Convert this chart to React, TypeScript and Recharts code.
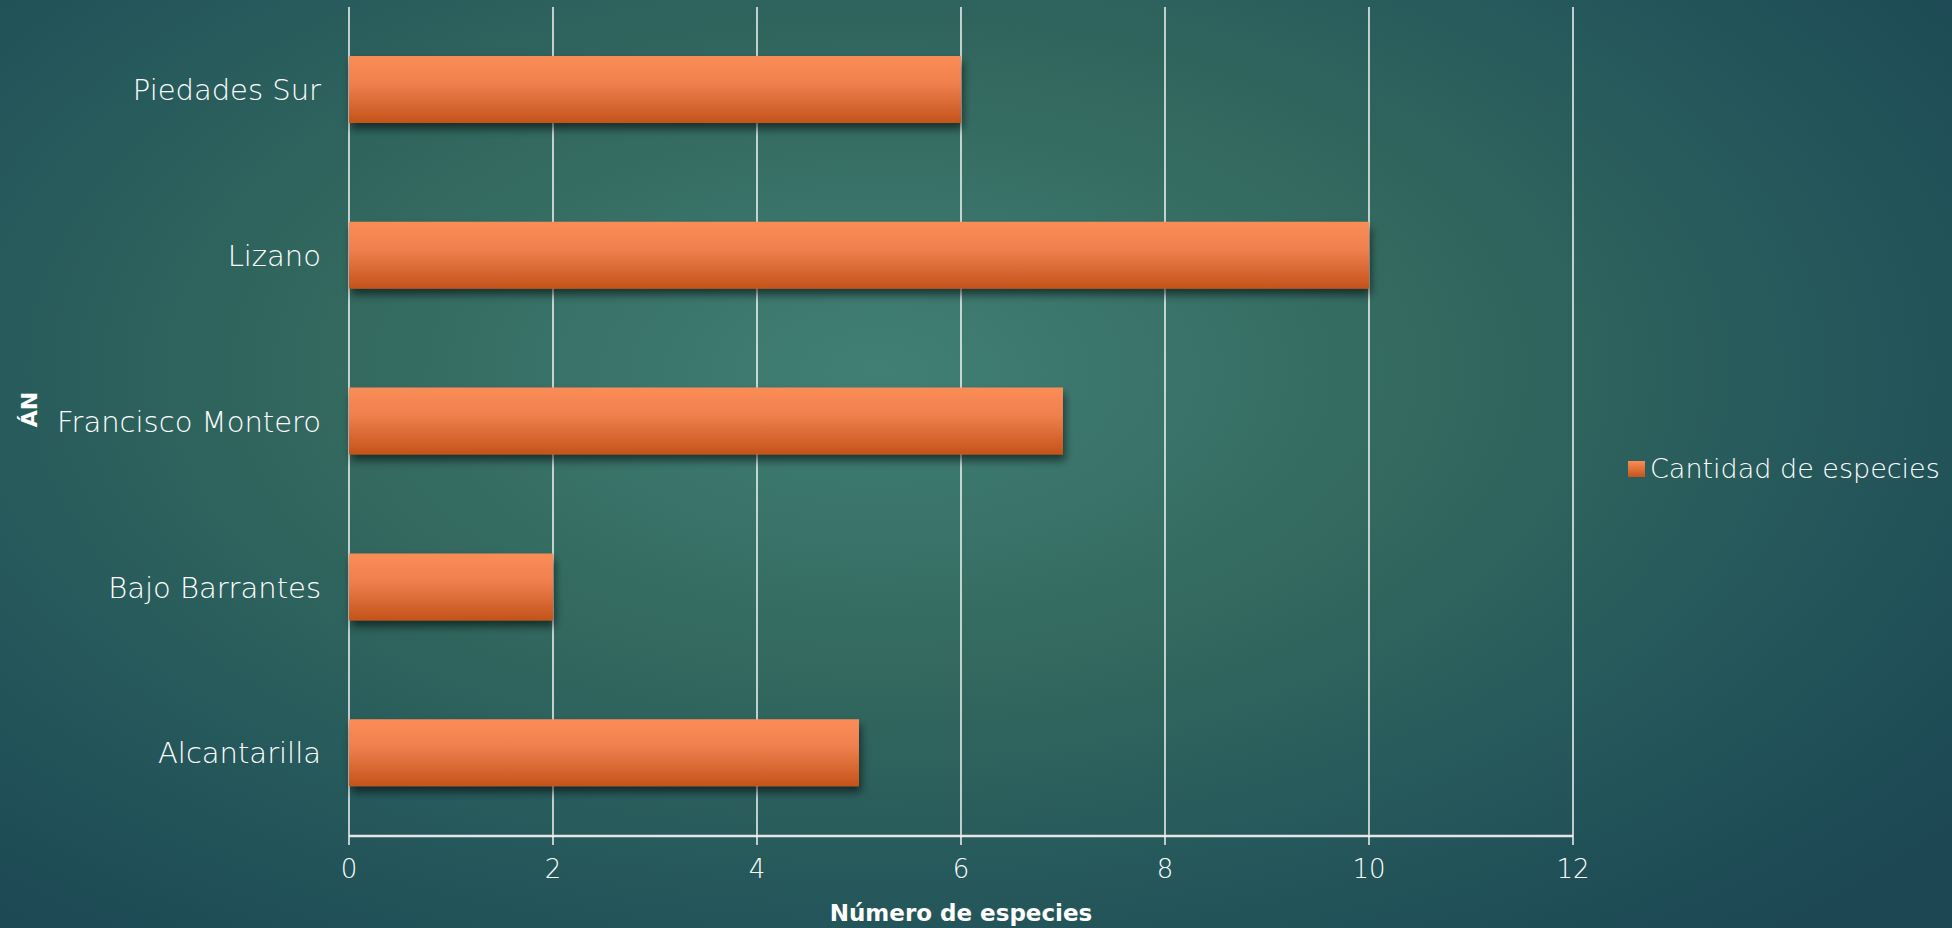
import {
  BarChart,
  Bar,
  XAxis,
  YAxis,
  CartesianGrid,
  Legend,
  Label,
} from 'recharts';

const sites = ['Piedades Sur', 'Lizano', 'Francisco Montero', 'Bajo Barrantes', 'Alcantarilla'];
const species = [6, 10, 7, 2, 5];
const xTicks = [0, 2, 4, 6, 8, 10, 12];

const data = sites.map((name, i) => ({ name, especies: species[i] }));

const FONT = '"DejaVu Sans", "Lato", sans-serif';

const LegendContent = () => (
  <div
    style={{
      display: 'flex',
      alignItems: 'center',
      fontFamily: FONT,
      fontSize: 27,
      fontWeight: 300,
      color: '#ffffff',
      whiteSpace: 'nowrap',
    }}
  >
    <span
      style={{
        width: 17,
        height: 16,
        marginRight: 5,
        background: 'linear-gradient(#f98d58, #c4541a)',
        display: 'inline-block',
      }}
    />
    Cantidad de especies
  </div>
);

// rotated y-axis title, placed from the axis viewBox
const YTitle = (props: any) => {
  const vb = props.viewBox || {};
  const cx = vb.x + 29;
  const cy = vb.y + vb.height / 2 - 12;
  return (
    <text
      x={cx}
      y={cy}
      transform={`rotate(-90, ${cx}, ${cy})`}
      textAnchor="middle"
      dominantBaseline="central"
      fill="#ffffff"
      fontSize={22}
      fontWeight={700}
      fontFamily={FONT}
    >
      ÁN
    </text>
  );
};

const App = () => {
  return (
    <div
      style={{
        position: 'absolute',
        left: 0,
        top: 0,
        width: 1952,
        height: 928,
        background:
          'radial-gradient(ellipse 70% 80% at 45% 40%, #417f75 0%, #33695f 40%, #23555a 75%, #1c4753 100%)',
      }}
    >
      <BarChart
        width={1952}
        height={928}
        layout="vertical"
        data={data}
        margin={{ top: 7, right: 379, bottom: 0, left: 0 }}
      >
        <defs>
          <linearGradient id="barFill" x1="0" y1="0" x2="0" y2="1">
            <stop offset="0%" stopColor="#fa8d57" />
            <stop offset="40%" stopColor="#f0804f" />
            <stop offset="100%" stopColor="#c4531a" />
          </linearGradient>
          <filter id="barShadow" x="-5%" y="-20%" width="110%" height="160%">
            <feDropShadow dx="2" dy="6" stdDeviation="4" floodColor="#000" floodOpacity="0.55" />
          </filter>
        </defs>
        <CartesianGrid horizontal={false} stroke="#ffffff" strokeWidth={1.4} />
        <XAxis
          type="number"
          domain={[0, 12]}
          ticks={xTicks}
          height={92}
          axisLine={{ stroke: '#e6e6e6', strokeWidth: 2.5 }}
          tickLine={{ stroke: '#ffffff', strokeWidth: 1.4 }}
          tickSize={9}
          tickMargin={15}
          tick={{ fill: '#ffffff', fontSize: 26, fontWeight: 300, fontFamily: FONT }}
          label={{
            value: 'Número de especies',
            position: 'insideBottom',
            offset: 7,
            fill: '#ffffff',
            fontSize: 23,
            fontWeight: 700,
            fontFamily: FONT,
          }}
        />
        <YAxis
          type="category"
          dataKey="name"
          width={349}
          axisLine={false}
          tickLine={false}
          tickSize={0}
          tickMargin={28}
          tick={{ fill: '#ffffff', fontSize: 29, fontWeight: 300, fontFamily: FONT }}
        >
          <Label content={<YTitle />} />
        </YAxis>
        <Legend
          layout="vertical"
          verticalAlign="middle"
          align="center"
          wrapperStyle={{ left: 1628, top: 453, width: 'auto' }}
          content={<LegendContent />}
        />
        <Bar
          dataKey="especies"
          name="Cantidad de especies"
          fill="url(#barFill)"
          barSize={67}
          filter="url(#barShadow)"
          isAnimationActive={false}
        />
      </BarChart>
    </div>
  );
};

export default App;
